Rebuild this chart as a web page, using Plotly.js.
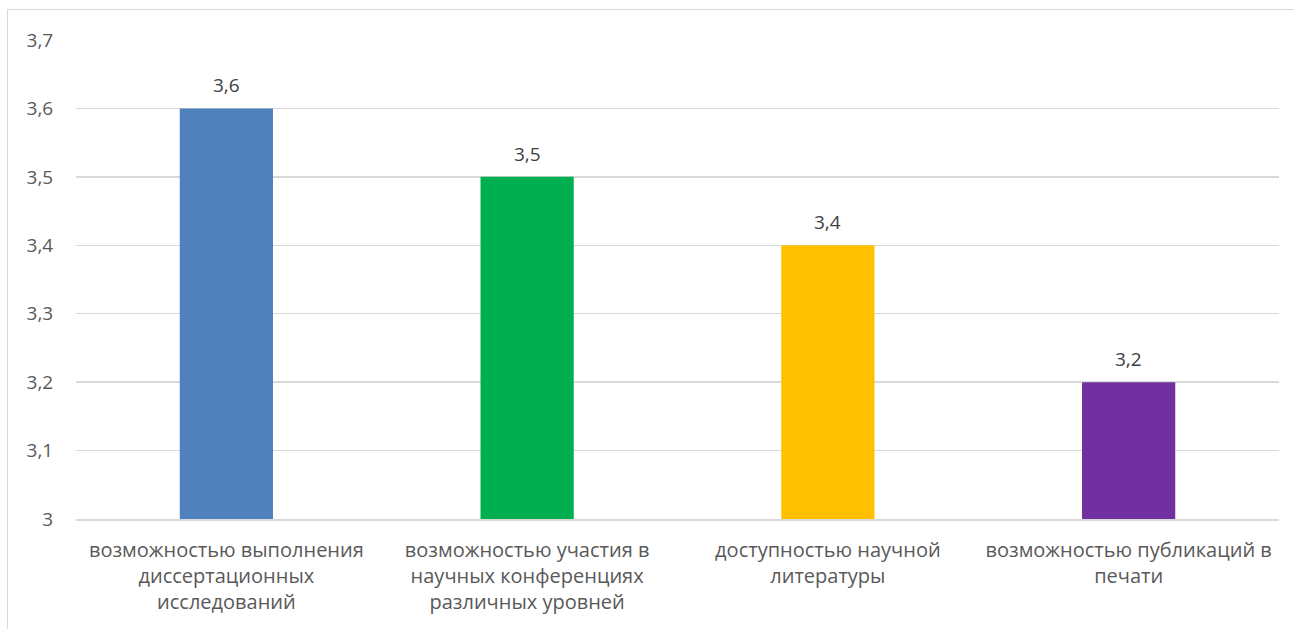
<!DOCTYPE html>
<html>
<head>
<meta charset="utf-8">
<script src="https://cdn.plot.ly/plotly-3.0.1.min.js"></script>
<style>
html,body{margin:0;padding:0;background:#fff;overflow:hidden;}
#frame{position:absolute;left:7px;top:9px;width:1400px;height:700px;border:1px solid #d9d9d9;box-sizing:border-box;}
#chart{position:absolute;left:0;top:0;width:1294px;height:629px;}
</style>
</head>
<body>
<div id="frame"></div>
<div id="chart"></div>
<script>
var categories = [
  "возможностью выполнения<br>диссертационных<br>исследований",
  "возможностью участия в<br>научных конференциях<br>различных уровней",
  "доступностью научной<br>литературы",
  "возможностью публикаций в<br>печати"
];
var values = [3.6, 3.5, 3.4, 3.2];
var valueLabels = ["3,6", "3,5", "3,4", "3,2"];
var barColors = ["#4F81BD", "#00B050", "#FFC000", "#7030A0"];

var trace = {
  type: "bar",
  x: categories,
  y: values,
  marker: {color: barColors},
  width: 0.31,
  hoverinfo: "none"
};

var annotations = categories.map(function (c, i) {
  return {
    x: c, y: values[i], xref: "x", yref: "y",
    text: valueLabels[i], showarrow: false,
    yanchor: "middle", yshift: 23,
    font: {family: "Open Sans, sans-serif", size: 19, color: "#404040"}
  };
});

var layout = {
  width: 1294,
  height: 629,
  margin: {l: 76, r: 15, t: 40, b: 110},
  paper_bgcolor: "rgba(0,0,0,0)",
  plot_bgcolor: "rgba(0,0,0,0)",
  separators: ", ",
  showlegend: false,
  annotations: annotations,
  font: {family: "Open Sans, sans-serif", size: 18, color: "#595959"},
  xaxis: {
    type: "category",
    showgrid: false,
    showline: true,
    linecolor: "#d9d9d9",
    linewidth: 1.5,
    ticks: "outside",
    ticklen: 12,
    tickcolor: "rgba(0,0,0,0)",
    tickfont: {family: "Open Sans, sans-serif", size: 20, color: "#595959"},
    fixedrange: true
  },
  yaxis: {
    range: [3, 3.7],
    dtick: 0.1,
    tick0: 3,
    showgrid: true,
    gridcolor: "#d9d9d9",
    gridwidth: 1.5,
    zeroline: false,
    showline: false,
    ticks: "outside",
    ticklen: 18,
    tickcolor: "rgba(0,0,0,0)",
    tickfont: {family: "Open Sans, sans-serif", size: 19, color: "#595959"},
    fixedrange: true
  }
};

Plotly.newPlot("chart", [trace], layout, {displayModeBar: false, staticPlot: true});
</script>
</body>
</html>
